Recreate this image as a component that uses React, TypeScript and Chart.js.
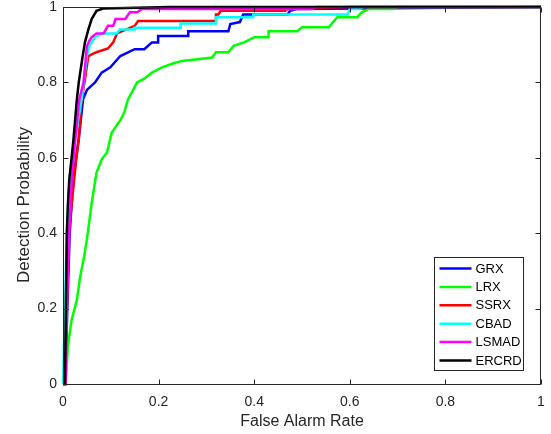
import React, { useEffect, useRef } from "react";
import { Chart, registerables } from "chart.js";

Chart.register(...registerables);

const seriesLabels = ["GRX", "LRX", "SSRX", "CBAD", "LSMAD", "ERCRD"];
const seriesColors = ["#0000ff", "#00ff00", "#ff0000", "#00ffff", "#ff00ff", "#000000"];
const axisTicks = [0, 0.2, 0.4, 0.6, 0.8, 1];
const tickLabels = ["0", "0.2", "0.4", "0.6", "0.8", "1"];
const xTitle = "False Alarm Rate";
const yTitle = "Detection Probability";

const grxFar = [0, 0.005, 0.009, 0.014, 0.022, 0.033, 0.042, 0.05, 0.067, 0.081, 0.099, 0.12, 0.15, 0.17, 0.186, 0.199, 0.199, 0.262, 0.262, 0.346, 0.35, 0.37, 0.377, 0.47, 0.475, 0.49, 1];
const grxPd = [0, 0, 0.2, 0.4, 0.55, 0.65, 0.755, 0.78, 0.8, 0.826, 0.84, 0.87, 0.888, 0.888, 0.906, 0.906, 0.923, 0.923, 0.936, 0.936, 0.955, 0.96, 0.98, 0.98, 0.99, 0.995, 1];

const lrxFar = [0, 0.006, 0.01, 0.018, 0.029, 0.036, 0.043, 0.05, 0.06, 0.07, 0.081, 0.092, 0.102, 0.12, 0.128, 0.136, 0.155, 0.17, 0.186, 0.207, 0.23, 0.249, 0.312, 0.32, 0.346, 0.357, 0.38, 0.4, 0.43, 0.43, 0.49, 0.5, 0.556, 0.565, 0.574, 0.616, 0.625, 0.64, 0.69, 0.7, 1];
const lrxPd = [0, 0, 0.1, 0.17, 0.223, 0.285, 0.33, 0.383, 0.48, 0.56, 0.596, 0.614, 0.667, 0.7, 0.72, 0.755, 0.8, 0.81, 0.826, 0.84, 0.85, 0.857, 0.866, 0.88, 0.88, 0.897, 0.907, 0.92, 0.92, 0.936, 0.936, 0.946, 0.946, 0.96, 0.973, 0.973, 0.986, 0.995, 0.995, 1, 1];

const ssrxFar = [0, 0.005, 0.008, 0.012, 0.02, 0.028, 0.033, 0.039, 0.045, 0.053, 0.07, 0.094, 0.105, 0.113, 0.15, 0.157, 0.318, 0.32, 0.325, 0.33, 0.465, 0.47, 0.6, 1];
const ssrxPd = [0, 0, 0.2, 0.4, 0.5, 0.6, 0.65, 0.755, 0.8, 0.87, 0.88, 0.89, 0.906, 0.93, 0.95, 0.963, 0.963, 0.98, 0.98, 0.99, 0.99, 0.995, 1, 1];

const cbadFar = [0, 0.002, 0.004, 0.008, 0.014, 0.025, 0.039, 0.05, 0.055, 0.067, 0.082, 0.112, 0.119, 0.15, 0.15, 0.246, 0.246, 0.32, 0.32, 0.398, 0.398, 0.595, 0.6, 0.62, 0.63, 1];
const cbadPd = [0, 0, 0.2, 0.4, 0.55, 0.65, 0.755, 0.87, 0.896, 0.92, 0.93, 0.93, 0.94, 0.94, 0.945, 0.945, 0.956, 0.956, 0.973, 0.973, 0.98, 0.98, 0.995, 0.995, 1, 1];

const lsmadFar = [0, 0.005, 0.008, 0.013, 0.018, 0.026, 0.034, 0.043, 0.05, 0.055, 0.06, 0.07, 0.085, 0.094, 0.105, 0.11, 0.13, 0.14, 0.155, 0.165, 0.52, 0.53, 1];
const lsmadPd = [0, 0, 0.2, 0.4, 0.54, 0.65, 0.755, 0.8, 0.896, 0.91, 0.92, 0.93, 0.93, 0.95, 0.95, 0.968, 0.968, 0.986, 0.986, 0.995, 0.995, 1, 1];

const ercrdFar = [0, 0.004, 0.006, 0.008, 0.01, 0.013, 0.018, 0.022, 0.029, 0.033, 0.04, 0.046, 0.053, 0.06, 0.07, 0.084, 0.224, 1];
const ercrdPd = [0, 0, 0.2, 0.4, 0.47, 0.54, 0.6, 0.65, 0.755, 0.8, 0.86, 0.907, 0.94, 0.968, 0.99, 0.996, 1, 1];

const seriesFar = [grxFar, lrxFar, ssrxFar, cbadFar, lsmadFar, ercrdFar];
const seriesPd = [grxPd, lrxPd, ssrxPd, cbadPd, lsmadPd, ercrdPd];

const FONT = "'Liberation Sans', Arial, Helvetica, sans-serif";
const INK = "#262626";

const framePlugin = {
  id: "matlabFrame",
  afterDraw(chart: any) {
    const ctx = chart.ctx;
    const { left, right, top, bottom } = chart.chartArea;
    const xs = chart.scales.x;
    const ys = chart.scales.y;
    const L = Math.round(left) + 0.5;
    const R = Math.round(right) - 0.5;
    const T = Math.round(top) + 0.5;
    const B = Math.round(bottom) + 0.5;
    ctx.save();
    ctx.strokeStyle = INK;
    ctx.lineWidth = 1;
    ctx.beginPath();
    ctx.rect(L, T, R - L, B - T);
    const tl = 5;
    axisTicks.forEach((v) => {
      const px = Math.round(xs.getPixelForValue(v)) + 0.5;
      ctx.moveTo(px, B);
      ctx.lineTo(px, B - tl);
      ctx.moveTo(px, T);
      ctx.lineTo(px, T + tl);
      const py = Math.round(ys.getPixelForValue(v)) + 0.5;
      ctx.moveTo(L, py);
      ctx.lineTo(L + tl, py);
      ctx.moveTo(R, py);
      ctx.lineTo(R - tl, py);
    });
    ctx.stroke();

    // axis titles
    ctx.fillStyle = INK;
    ctx.textAlign = "center";
    ctx.textBaseline = "middle";
    ctx.font = `16px ${FONT}`;
    ctx.fillText(xTitle, (left + right) / 2, 422);
    ctx.save();
    ctx.translate(24, 205);
    ctx.rotate(-Math.PI / 2);
    ctx.font = `17px ${FONT}`;
    ctx.fillText(yTitle, 0, 0);
    ctx.restore();

    // legend box
    const ds = chart.data.datasets;
    const bw = 89;
    const rowH = 18.4;
    const bh = 113;
    const bx = Math.round(right - 18 - bw) + 0.5;
    const by = Math.round(bottom - 14 - bh) + 0.5;
    ctx.fillStyle = "#ffffff";
    ctx.fillRect(bx, by, bw, bh);
    ctx.strokeStyle = INK;
    ctx.lineWidth = 1;
    ctx.strokeRect(bx, by, bw, bh);
    ctx.font = `13px ${FONT}`;
    ctx.textAlign = "left";
    ctx.textBaseline = "middle";
    ds.forEach((d: any, i: number) => {
      const y = by + 11 + i * rowH;
      ctx.strokeStyle = d.borderColor;
      ctx.lineWidth = 2.5;
      ctx.beginPath();
      ctx.moveTo(bx + 5, y);
      ctx.lineTo(bx + 37, y);
      ctx.stroke();
      ctx.fillStyle = "#000000";
      ctx.fillText(d.label, bx + 41, y + 0.5);
    });
    ctx.restore();
  },
};

const zeroPad = (s: any) => {
  s.paddingLeft = 0;
  s.paddingRight = 0;
  s.paddingTop = 0;
  s.paddingBottom = 0;
};

export default function App() {
  const ref = useRef<HTMLCanvasElement | null>(null);
  useEffect(() => {
    if (!ref.current) return;
    const datasets = seriesLabels.map((label, i) => ({
      label,
      data: seriesFar[i].map((x, j) => ({ x, y: seriesPd[i][j] })),
      borderColor: seriesColors[i],
      backgroundColor: seriesColors[i],
      borderWidth: 2.5,
      pointRadius: 0,
      showLine: true,
      fill: false,
      tension: 0,
      order: seriesLabels.length - 1 - i,
      clip: 4,
    }));
    const fmt = (v: any) => {
      const k = axisTicks.findIndex((t) => Math.abs(t - Number(v)) < 1e-9);
      return k >= 0 ? tickLabels[k] : "";
    };
    const chart = new Chart(ref.current, {
      type: "scatter",
      data: { datasets },
      options: {
        animation: false,
        responsive: false,
        devicePixelRatio: 1,
        layout: { padding: { left: 0, top: 7, right: 10, bottom: 0 } },
        plugins: { legend: { display: false }, tooltip: { enabled: false } },
        scales: {
          x: {
            type: "linear",
            min: 0,
            max: 1,
            afterFit: (s: any) => {
              s.height = 50;
              zeroPad(s);
            },
            afterBuildTicks: (s: any) => {
              s.ticks = axisTicks.map((v) => ({ value: v }));
            },
            grid: { display: false, drawTicks: false },
            border: { display: false },
            ticks: {
              padding: 10,
              color: INK,
              font: { family: FONT, size: 14 },
              maxRotation: 0,
              callback: fmt,
            },
          },
          y: {
            type: "linear",
            min: 0,
            max: 1,
            afterFit: (s: any) => {
              s.width = 63;
              zeroPad(s);
            },
            afterBuildTicks: (s: any) => {
              s.ticks = axisTicks.map((v) => ({ value: v }));
            },
            grid: { display: false, drawTicks: false },
            border: { display: false },
            ticks: {
              padding: 6,
              color: INK,
              font: { family: FONT, size: 14 },
              callback: fmt,
            },
          },
        },
      },
      plugins: [framePlugin],
    } as any);
    return () => chart.destroy();
  }, []);
  return (
    <div style={{ position: "absolute", left: 0, top: 0, width: 551, height: 434, background: "#fff" }}>
      <canvas ref={ref} width={551} height={434} style={{ display: "block" }} />
    </div>
  );
}
